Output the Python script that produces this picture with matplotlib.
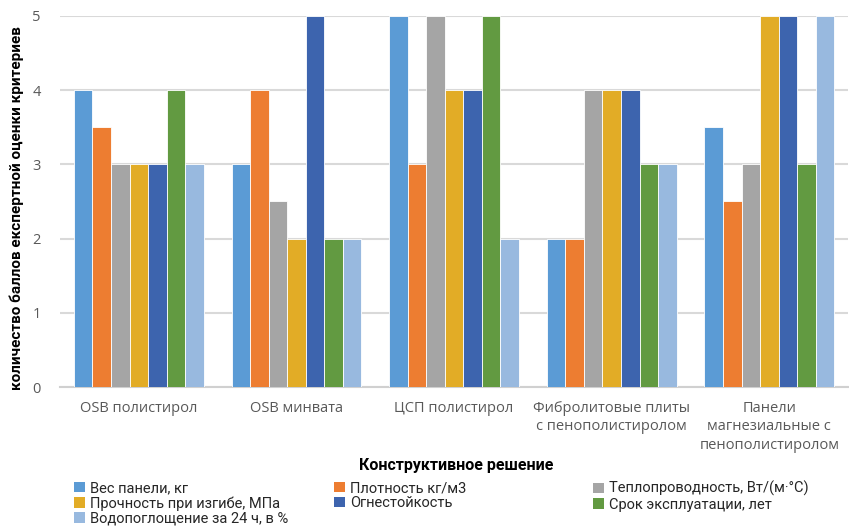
import numpy as np
import matplotlib
matplotlib.use("Agg")
import matplotlib.pyplot as plt
from matplotlib.patches import Patch

# Panel types and expert scores per criterion
categories = ["OSB полистирол", "OSB минвата", "ЦСП полистирол",
              "Фибролитовые плиты\nс пенополистиролом",
              "Панели\nмагнезиальные с\nпенополистиролом"]
series_names = ["Вес панели, кг", "Плотность кг/м3", "Теплопроводность, Вт/(м·°С)",
                "Прочность при изгибе, МПа", "Огнестойкость", "Срок эксплуатации, лет",
                "Водопоглощение за 24 ч, в %"]
weight = [4, 3, 5, 2, 3.5]
density = [3.5, 4, 3, 2, 2.5]
conductivity = [3, 2.5, 5, 4, 3]
strength = [3, 2, 4, 4, 5]
fire = [3, 5, 4, 4, 5]
lifetime = [4, 2, 5, 3, 3]
water = [3, 2, 2, 3, 5]
yticks = [0, 1, 2, 3, 4, 5]

series = [weight, density, conductivity, strength, fire, lifetime, water]
colors = ["#5B9BD5", "#ED7D31", "#A5A5A5", "#E2AC26", "#3D64AE", "#629A41", "#98B9DF"]

bold_font = ["Roboto", "DejaVu Sans"]
plt.rcParams['font.family'] = ["Open Sans", "DejaVu Sans"]

fig = plt.figure(figsize=(8.49, 5.28), dpi=100)
ax = fig.add_axes([0.0707, 0.267, 0.9283, 0.703])

x = np.arange(len(categories))
w = 0.1176
for i, (vals, c) in enumerate(zip(series, colors)):
    ax.bar(x + (i - 3) * w, vals, width=w, color=c, edgecolor="white",
           linewidth=0.6, zorder=3)

ax.set_xlim(-0.5, len(categories) - 0.5)
ax.set_ylim(0, 5)
ax.set_yticks(yticks)
ax.grid(axis="y", color="#D9D9D9", linewidth=1.5, zorder=0)
for s in ["top", "right", "left"]:
    ax.spines[s].set_visible(False)
ax.spines["bottom"].set_color("#D0D0D0")
ax.spines["bottom"].set_linewidth(1.5)
ax.tick_params(axis="both", length=0, colors="#595959", labelsize=10.5)
ax.tick_params(axis="y", pad=14)
ax.set_xticks(x)
ax.set_xticklabels(categories, fontsize=10.5, color="#595959", linespacing=1.3)
ax.tick_params(axis="x", pad=10)

# axis titles
fig.text(0.020, 0.605, "количество баллов експертной оценки критериев", rotation=90,
         ha="center", va="center", fontsize=11, fontweight="bold", family=bold_font)
fig.text(0.537, 0.119, "Конструктивное решение", ha="center", va="center",
         fontsize=11.5, fontweight="bold", family=bold_font)

# legend laid out row by row in three columns
handles = [Patch(facecolor=c, label=n) for c, n in zip(colors, series_names)]
col_x = [0.087, 0.393, 0.698]
for j, cx in enumerate(col_x):
    leg = fig.legend(handles=handles[j::3], loc="upper left", bbox_to_anchor=(cx, 0.089),
                     frameon=False, prop={"family": bold_font, "size": 10.5},
                     handlelength=0.75, handleheight=0.75, handletextpad=0.35,
                     labelspacing=0.08, borderpad=0, borderaxespad=0)
    for t in leg.get_texts():
        t.set_color("#262626")

fig.savefig("out.png", dpi=100)
